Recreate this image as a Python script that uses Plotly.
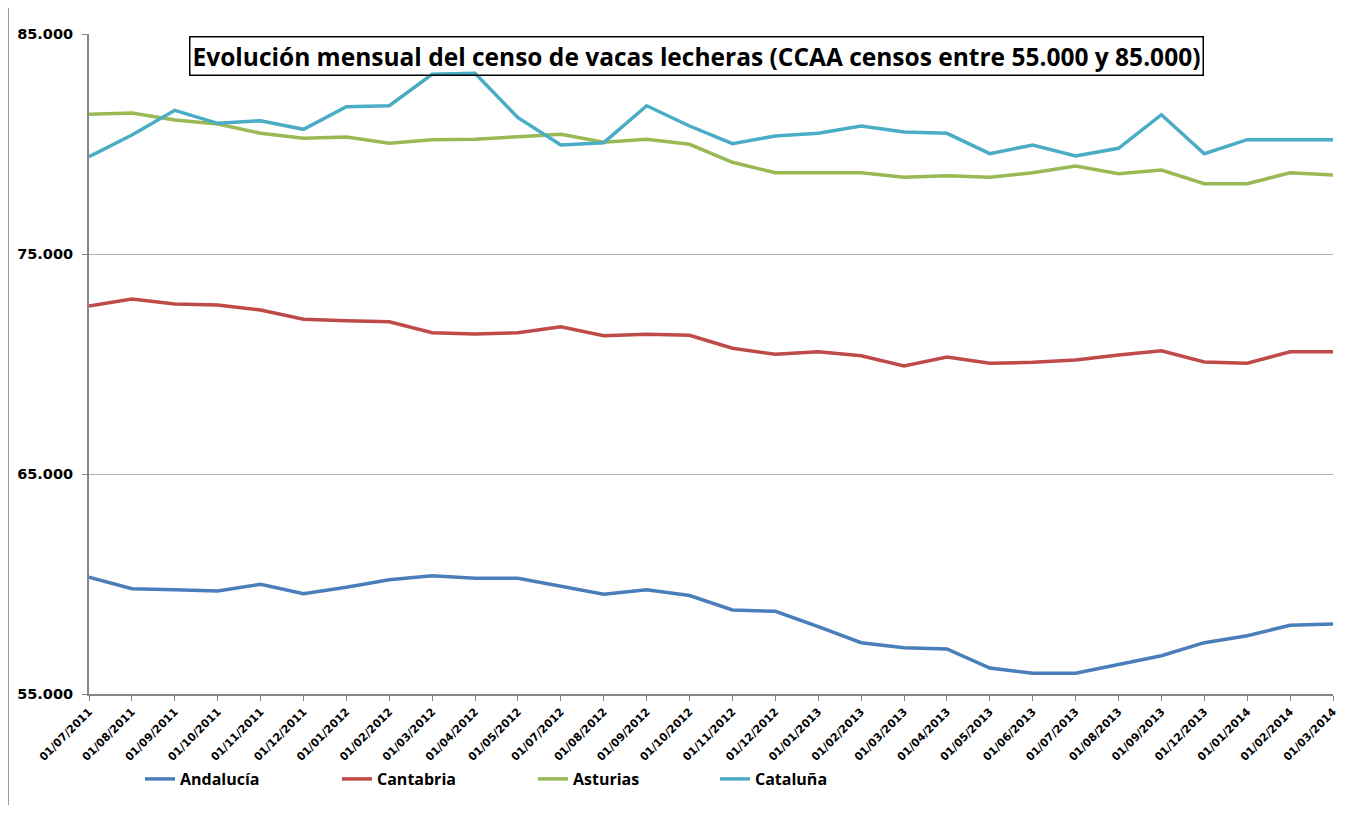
import plotly.graph_objects as go

fechas = ["01/07/2011", "01/08/2011", "01/09/2011", "01/10/2011", "01/11/2011", "01/12/2011",
          "01/01/2012", "01/02/2012", "01/03/2012", "01/04/2012", "01/05/2012", "01/07/2012",
          "01/08/2012", "01/09/2012", "01/10/2012", "01/11/2012", "01/12/2012", "01/01/2013",
          "01/02/2013", "01/03/2013", "01/04/2013", "01/05/2013", "01/06/2013", "01/07/2013",
          "01/08/2013", "01/09/2013", "01/12/2013", "01/01/2014", "01/02/2014", "01/03/2014"]

andalucia = [60305, 59786, 59741, 59682, 59986, 59559, 59850, 60195, 60377, 60259,
             60259, 59909, 59532, 59741, 59477, 58818, 58759, 58059, 57332, 57105,
             57045, 56182, 55941, 55941, 56350, 56741, 57332, 57650, 58123, 58182]

cantabria = [72636, 72955, 72727, 72682, 72455, 72032, 71968, 71923, 71423, 71364,
             71423, 71695, 71286, 71350, 71305, 70714, 70441, 70559, 70377, 69909,
             70318, 70032, 70077, 70182, 70409, 70605, 70091, 70032, 70559, 70559]

asturias = [81350, 81409, 81091, 80909, 80486, 80259, 80318, 80032, 80195, 80214,
            80332, 80441, 80077, 80214, 79986, 79168, 78695, 78695, 78695, 78486,
            78559, 78486, 78695, 79000, 78650, 78818, 78195, 78195, 78695, 78591]

cataluna = [79423, 80409, 81532, 80941, 81059, 80668, 81695, 81741, 83168, 83214,
            81195, 79955, 80059, 81741, 80818, 80014, 80364, 80486, 80818, 80545,
            80486, 79559, 79955, 79455, 79805, 81332, 79559, 80195, 80195, 80195]

series = [("Andalucía", andalucia, "#4A7EBB"),
          ("Cantabria", cantabria, "#BE4B48"),
          ("Asturias", asturias, "#98B954"),
          ("Cataluña", cataluna, "#4BACC6")]

titulo = "Evolución mensual del censo de vacas lecheras (CCAA censos entre 55.000 y 85.000)"

# page has an 8px body margin: figure is drawn offset by 8px
OFF = 8
W, H = 1356 - 2 * OFF, 813 - 2 * OFF
PX0, PX1, PY0, PY1 = 89, 1333, 34, 694          # plot area in screen pixels
L, T = PX0 - OFF, PY0 - OFF
R = W - L - (PX1 - PX0)
B = H - T - (PY1 - PY0)
pw, ph = PX1 - PX0, PY1 - PY0

def px_x(x):
    return (x - PX0) / pw

def px_y(y):
    return (PY1 - y) / ph

legend_text_x = [180, 377, 573, 755]
legend_font = dict(family="Open Sans", size=16, color="black", weight="bold")

fig = go.Figure()
legend_layout = {}
for i, (name, vals, color) in enumerate(series):
    key = "legend" if i == 0 else f"legend{i + 1}"
    fig.add_trace(go.Scatter(x=fechas, y=vals, name=name, mode="lines",
                             line=dict(color=color, width=3.5), legend=key))
    legend_layout[key] = dict(orientation="h", x=px_x(legend_text_x[i] - 40), y=px_y(779),
                              xanchor="left", yanchor="middle",
                              font=legend_font, bgcolor="rgba(0,0,0,0)")

fig.update_layout(
    width=W, height=H,
    margin=dict(l=L, r=R, t=T, b=B, autoexpand=False),
    paper_bgcolor="white", plot_bgcolor="white",
    separators=",.",
    showlegend=True,
    xaxis=dict(type="category", range=[0, len(fechas) - 1], showgrid=False,
               showline=True, linecolor="#868686", linewidth=2,
               ticks="outside", ticklen=5, tickcolor="#868686", tickwidth=1,
               tickangle=-45,
               tickfont=dict(family="DejaVu Sans", size=11, color="black", weight="bold")),
    yaxis=dict(range=[55000, 85000], tick0=55000, dtick=10000, tickformat=",d",
               showgrid=True, gridcolor="#B0B0B0", gridwidth=1,
               showline=True, linecolor="#868686", linewidth=2,
               ticks="outside", ticklen=5, tickcolor="#868686", tickwidth=1,
               ticklabelstandoff=6, zeroline=False,
               tickfont=dict(family="DejaVu Sans", size=14.5, color="black", weight="bold")),
    annotations=[dict(text=titulo, xref="paper", yref="paper",
                      x=px_x(696.5), y=px_y(56.5), xanchor="center", yanchor="middle",
                      showarrow=False, bgcolor="rgba(255,255,255,0)", bordercolor="black",
                      borderwidth=1.5, borderpad=2,
                      font=dict(family="Open Sans", size=24.5, color="black", weight="bold"))],
    shapes=[dict(type="line", xref="paper", yref="paper",
                 x0=px_x(8.5), x1=px_x(8.5), y0=px_y(813), y1=px_y(0),
                 line=dict(color="#9A9A9A", width=1))],
    **legend_layout,
)

fig.write_html("out.html")
